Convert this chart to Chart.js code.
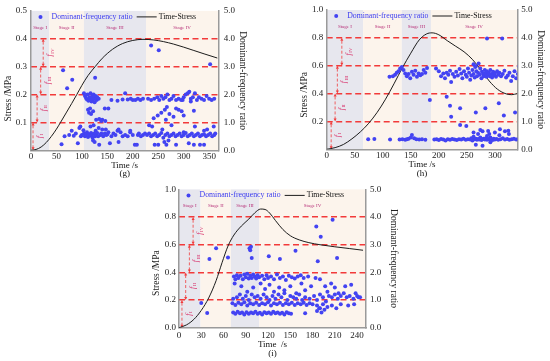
<!DOCTYPE html>
<html>
<head>
<meta charset="utf-8">
<script src="https://cdn.jsdelivr.net/npm/chart.js@4.4.1/dist/chart.umd.min.js"></script>
<style>
  body { margin: 0; background: #fff; }
  #wrap { position: relative; width: 550px; height: 361px; }
  .box { position: absolute; }
</style>
</head>
<body>
<div id="wrap">
  <div class="box" style="left:0;top:0;width:275px;height:180px"><canvas id="g"></canvas></div>
  <div class="box" style="left:275px;top:0;width:275px;height:180px"><canvas id="h"></canvas></div>
  <div class="box" style="left:130px;top:180px;width:280px;height:181px"><canvas id="i"></canvas></div>
</div>
<script>
const stageNames = ['Stage I', 'Stage II', 'Stage III', 'Stage IV'];
const stepNames = ['I', 'II', 'III', 'IV'];

// (g)
const gXTicks = [0, 50, 100, 150, 200, 250, 300, 350];
const gStages = [0, 36, 104, 226, 368];
const gSteps = [4, 12, 19, 24];
const gStressT = [0, 10, 20, 30, 40, 50, 58, 70, 80, 90, 100, 112, 126, 140, 160, 180, 200, 220, 240, 260, 280, 300, 320, 340, 366];
const gStressV = [0, 0.003, 0.012, 0.028, 0.05, 0.076, 0.1, 0.137, 0.168, 0.2, 0.233, 0.268, 0.3, 0.33, 0.362, 0.383, 0.394, 0.398, 0.396, 0.39, 0.381, 0.37, 0.358, 0.346, 0.331];
const gRatio = [
  [63,2.87],[71,2.23],[81,2.53],[60,0.22],[66,0.5],[75,0.55],[80,0.7],[84,0.52],[88,0.6],[92,0.25],[95,0.8],[97,0.85],[100,0.55],[103,0.72],[98,0.5],
  [104,2.05],[106,1.95],[108,1.88],[110,1.82],[111,2.0],[113,1.78],[115,1.9],[116,1.85],[117,2.05],[119,1.75],[120,1.92],[121,1.8],[123,2.0],[124,1.85],[125,1.72],[127,1.95],[129,1.8],[130,1.9],[133,1.85],[126,2.6],
  [112,1.45],[114,1.35],[118,1.3],[116,1.5],[122,1.4],[128,1.1],[134,1.12],[140,1.1],[145,1.5],[152,1.5],[138,1.05],[146,1.05],[158,1.8],[170,1.78],[185,2.05],[190,1.82],[196,1.85],[200,1.8],[205,1.8],[210,1.85],[215,1.8],[220,1.85],[180,1.82],
  [104,0.6],[106,0.5],[108,0.55],[110,0.65],[112,0.48],[114,0.58],[116,0.52],[118,0.62],[120,0.55],[121,0.45],[122,0.35],[124,0.6],[125,0.3],[126,0.5],[127,0.7],[128,0.55],[130,0.62],[132,0.5],[134,0.2],[136,0.55],[138,0.6],[140,0.75],[142,0.5],[145,0.6],[148,0.55],[150,0.58],[152,0.65],[155,0.25],[158,0.5],[162,0.6],[166,0.55],[170,0.7],[172,0.3],[176,0.65],[180,0.5],[185,0.55],[190,0.5],[195,0.65],[200,0.55],[204,0.2],[208,0.2],[210,0.55],[212,0.6],[216,0.5],[220,0.55],[224,0.6],
  [117,0.85],[123,0.9],[133,0.8],[147,0.75],[172,0.75],[195,0.7],
  [236,3.76],[251,3.59],[352,3.09],
  [230,1.85],[236,1.8],[242,1.85],[248,1.9],[252,1.8],[256,1.95],[260,1.85],[264,1.9],[268,2.0],[272,1.8],[276,1.85],[280,1.95],[285,1.8],[290,1.85],[295,1.8],[300,1.9],[304,2.0],[308,2.05],[311,2.1],[314,1.85],[318,1.9],[322,2.05],[326,1.8],[330,1.9],[335,1.85],[340,1.8],[345,1.95],[350,1.85],[355,1.8],[360,1.85],[314,1.75],[298,1.8],
  [241,1.15],[249,1.25],[256,1.35],[263,1.45],[267,1.55],[272,1.3],[280,1.2],[285,1.5],[290,1.45],[296,1.4],[300,1.25],[320,1.42],[265,1.1],[232,0.9],[238,0.85],[258,0.75],[276,0.9],[300,0.65],[322,0.85],[346,0.75],[340,0.7],[359,0.85],
  [228,0.55],[232,0.6],[236,0.5],[240,0.55],[244,0.6],[248,0.5],[252,0.55],[256,0.62],[260,0.45],[264,0.55],[268,0.6],[272,0.5],[276,0.55],[280,0.6],[284,0.5],[288,0.55],[292,0.6],[296,0.5],[300,0.55],[304,0.62],[308,0.5],[312,0.55],[316,0.6],[320,0.5],[324,0.55],[328,0.6],[332,0.5],[336,0.55],[340,0.58],[344,0.5],[348,0.55],[352,0.6],[356,0.5],[360,0.55],[362,0.6],
  [243,0.2],[250,0.2],[262,0.3],[266,0.2],[270,0.35],[285,0.2],[310,0.25],[320,0.2],[332,0.2],[340,0.2]
];

// (h)
const hXTicks = [0, 50, 100, 150, 200, 250, 300];
const hStages = [0, 65, 134, 186, 340];
const hSteps = [8, 15, 19, 27];
const hStressT = [0, 15, 30, 45, 60, 75, 90, 105, 120, 135, 150, 165, 178, 188, 200, 215, 230, 245, 260, 275, 290, 305, 320, 330, 340];
const hStressV = [0, 0.012, 0.035, 0.075, 0.125, 0.187, 0.265, 0.36, 0.47, 0.585, 0.69, 0.785, 0.828, 0.836, 0.822, 0.78, 0.74, 0.70, 0.645, 0.57, 0.49, 0.43, 0.398, 0.392, 0.40];
const hRatio = [
  [74,0.36],[85,0.37],[113,0.35],[130,0.35],[135,0.36],[140,0.34],[143,0.36],[146,0.38],[150,0.42],[152,0.51],[156,0.4],[160,0.36],[165,0.35],[170,0.36],[176,0.34],
  [192,0.35],[196,0.36],[200,0.33],[204,0.37],[208,0.35],[212,0.32],[216,0.36],[220,0.34],[224,0.37],[228,0.35],[232,0.33],[236,0.36],[240,0.35],[244,0.38],[248,0.34],[252,0.36],[256,0.35],[258,0.4],[260,0.32],[262,0.45],[264,0.36],[266,0.38],[268,0.34],[270,0.37],[272,0.35],[274,0.42],[276,0.33],[278,0.36],[280,0.38],[282,0.35],[284,0.4],[286,0.34],[288,0.37],[290,0.35],[292,0.42],[294,0.36],[296,0.33],[298,0.38],[300,0.35],[303,0.37],[306,0.34],[310,0.36],[314,0.4],[318,0.35],[322,0.37],[326,0.34],[330,0.36],[334,0.38],[338,0.35],[342,0.36],
  [262,0.6],[270,0.55],[278,0.65],[290,0.55],[300,0.6],[308,0.5],[318,0.65],[325,0.55],[286,0.48],[266,0.16],[278,0.13],[292,0.25],
  [112,2.6],[118,2.62],[122,2.68],[125,2.75],[128,2.8],[131,2.9],[134,2.95],[137,2.85],[140,2.72],[143,2.62],[146,2.7],[149,2.55],[152,2.78],[155,2.68],[158,2.82],[161,2.6],[164,2.72],[167,2.66],[170,2.7],[173,2.85],[176,2.75],[179,2.92],
  [195,2.9],[200,2.8],[204,2.62],[208,2.72],[211,2.55],[214,2.75],[217,2.68],[220,2.82],[222,2.42],[225,2.7],[228,2.6],[231,2.78],[234,2.65],[237,2.88],[240,2.72],[242,2.55],[245,2.8],[248,2.68],[250,2.6],[252,2.9],[254,2.75],[256,2.5],[258,2.65],[260,2.85],[262,2.7],[264,2.58],[265,2.95],[267,2.8],[268,2.62],[270,2.75],[271,3.08],[273,2.68],[274,2.9],[276,2.55],[277,2.78],[279,2.7],[280,2.62],[282,2.85],[283,2.72],[285,2.6],[286,2.8],[288,2.68],[289,2.75],[291,2.62],[292,2.85],[294,2.7],[295,2.58],[297,2.78],[298,2.66],[300,2.72],[302,2.6],[304,2.8],[306,2.68],[308,2.75],[311,2.62],[314,2.7],[317,2.82],[320,2.58],[323,2.65],[326,2.75],[329,2.45],[332,2.62],[335,2.8],[338,2.55],[341,2.7],[343,2.98],[262,3.05],[266,2.98],
  [184,1.77],[214,1.89],[220,1.56],[238,1.47],[238,0.87],[249,0.84],[222,1.17],[266,1.32],[283,1.47],[307,1.65],[316,1.21],[336,1.32],[274,0.69],[288,0.66],[309,0.72],[324,0.67],[286,3.98],[313,3.98]
];

// (i)
const iXTicks = [0, 30, 60, 90, 120, 150, 180, 210, 240];
const iStages = [0, 29, 70, 108, 252];
const iSteps = [4, 9, 14, 19];
const iStressT = [0, 10, 20, 30, 40, 50, 58, 66, 74, 84, 94, 102, 110, 116, 122, 130, 140, 150, 162, 175, 190, 210, 230, 248];
const iStressV = [0, 0.02, 0.06, 0.125, 0.215, 0.34, 0.47, 0.59, 0.67, 0.735, 0.785, 0.83, 0.858, 0.855, 0.83, 0.775, 0.71, 0.665, 0.635, 0.615, 0.6, 0.585, 0.572, 0.56];
const iRatio = [
  [74,1.85],[76,1.75],[78,1.9],[80,1.8],[83,1.88],[86,1.75],[88,1.92],[90,1.82],[92,1.95],[94,1.78],[96,1.88],[98,1.8],[100,1.92],[102,1.85],[104,1.78],[106,1.9],[108,1.82],[112,1.88],[115,1.75],[118,1.9],[120,1.8],[124,1.85],[128,1.75],[132,1.92],[136,1.8],[140,1.85],[144,1.72],[148,1.88],[152,1.82],[156,1.78],[160,1.85],[164,1.9],[168,1.8],[174,1.85],
  [75,1.6],[84,1.5],[92,1.3],[100,1.45],[110,1.6],[116,1.4],[122,1.55],[128,1.3],[135,1.45],[142,1.35],[150,1.5],[158,1.25],[165,1.6],[170,1.35],[178,1.5],[184,1.8],[190,1.75],[197,1.5],[200,1.3],[205,1.6],[210,1.45],[215,1.25],[224,1.5],[232,1.55],[238,1.25],[242,1.1],
  [73,1.05],[78,1.1],[82,1.2],[86,1.05],[90,1.15],[94,1.0],[98,1.2],[102,1.1],[106,1.15],[110,1.05],[114,1.2],[118,1.1],[122,1.0],[126,1.15],[130,1.05],[134,1.2],[138,1.1],[142,1.25],[146,1.0],[150,1.15],[154,1.1],[158,1.05],[162,1.2],[166,1.0],[170,1.1],[176,1.05],[182,1.15],[186,1.0],[190,1.2],[194,1.1],[198,0.95],[202,1.15],[206,1.1],[210,1.2],[214,1.05],[218,1.15],[222,1.25],[226,1.1],[230,1.15],[235,1.05],[240,1.15],[244,1.1],
  [72,0.88],[76,0.82],[80,0.9],[84,0.85],[88,0.92],[92,0.8],[96,0.88],[100,0.85],[104,0.9],[108,0.82],[112,0.88],[116,0.85],[120,0.92],[124,0.8],[128,0.88],[132,0.85],[136,0.9],[140,0.82],[144,0.88],[148,0.85],[152,0.9],[156,0.82],[160,0.88],[164,0.85],[168,0.9],[172,0.82],[176,0.88],[180,0.85],[186,0.8],[190,0.7],[194,0.85],[200,0.75],[206,0.8],[212,0.7],[218,0.85],[228,0.8],[236,0.85],
  [73,0.55],[76,0.5],[79,0.58],[82,0.52],[85,0.55],[88,0.48],[91,0.56],[94,0.5],[97,0.55],[100,0.52],[103,0.58],[106,0.5],[109,0.54],[112,0.48],[115,0.56],[118,0.52],[121,0.55],[124,0.5],[127,0.58],[130,0.52],[133,0.55],[136,0.5],[139,0.54],[142,0.48],[145,0.56],[148,0.52],[151,0.5],[170,0.52],[186,0.6],[189,0.7],[192,0.55],[196,0.65],
  [30,0.89],[38,0.53],[41,2.48],[50,2.87],[66,2.54],[95,2.87],[97,2.93],[96,2.8],[98,2.52],[121,2.58],[136,2.48],[157,2.78],[187,2.4],[185,3.66],[191,3.29],[207,3.9],[213,2.52]
];

const serif = 'Liberation Serif';

// stage bands + stage names, under everything
const stagePlugin = {
  id: 'stages',
  beforeDraw(chart, args, opts) {
    const { ctx, chartArea: a, scales: { x } } = chart;
    ctx.save();
    for (let k = 0; k < 4; k++) {
      const x0 = x.getPixelForValue(opts.bounds[k]);
      const x1 = x.getPixelForValue(opts.bounds[k + 1]);
      ctx.fillStyle = k % 2 ? '#fcf4ec' : '#e7e7ee';
      ctx.fillRect(x0, a.top, x1 - x0, a.bottom - a.top);
      ctx.fillStyle = '#b8337a';
      ctx.font = '5px ' + serif;
      ctx.textAlign = 'center';
      ctx.textBaseline = 'middle';
      ctx.fillText(stageNames[k], (x0 + x1) / 2, a.top + 16.5);
    }
    ctx.restore();
  }
};

// the f_I .. f_IV step arrows
const stepPlugin = {
  id: 'steps',
  beforeDatasetsDraw(chart, args, opts) {
    const { ctx, scales: { x, y1 } } = chart;
    ctx.save();
    opts.at.forEach((t, k) => {
      const px = x.getPixelForValue(t);
      const ya = y1.getPixelForValue(k), yb = y1.getPixelForValue(k + 1);
      ctx.strokeStyle = '#f03c3c';
      ctx.lineWidth = 0.8;
      ctx.setLineDash([3, 2]);
      ctx.beginPath(); ctx.moveTo(px, ya - 2); ctx.lineTo(px, yb + 2); ctx.stroke();
      ctx.setLineDash([]);
      ctx.fillStyle = '#f03c3c';
      [[yb, 1], [ya, -1]].forEach(([yy, dir]) => {
        ctx.beginPath();
        ctx.moveTo(px, yy);
        ctx.lineTo(px - 1.5, yy + dir * 3);
        ctx.lineTo(px + 1.5, yy + dir * 3);
        ctx.closePath();
        ctx.fill();
      });
      ctx.save();
      ctx.translate(px + 7, (ya + yb) / 2);
      ctx.rotate(-Math.PI / 2);
      ctx.fillStyle = '#d8306a';
      ctx.textBaseline = 'middle';
      ctx.textAlign = 'left';
      ctx.font = 'italic 8px ' + serif;
      const w = ctx.measureText('f').width;
      ctx.font = '5px ' + serif;
      const ws = ctx.measureText(stepNames[k]).width;
      const start = -(w + ws) / 2;
      ctx.font = 'italic 8px ' + serif;
      ctx.fillText('f', start, 0);
      ctx.font = '5px ' + serif;
      ctx.fillText(stepNames[k], start + w + 0.5, 2);
      ctx.restore();
    });
    ctx.restore();
  }
};

// legend inside the plot + left axis title
const keyPlugin = {
  id: 'key',
  afterDatasetsDraw(chart, args, opts) {
    const { ctx, chartArea: a } = chart;
    const ds = chart.data.datasets;
    const y = a.top + 6;
    let x = a.left + 9.5;
    ctx.save();
    ctx.font = '7.8px ' + serif;
    ctx.textBaseline = 'middle';
    ctx.textAlign = 'left';
    ctx.fillStyle = ds[0].backgroundColor;
    ctx.beginPath(); ctx.arc(x, y, 2, 0, Math.PI * 2); ctx.fill();
    x += 11;
    ctx.fillStyle = '#3c3cf0';
    ctx.fillText(ds[0].label, x, y);
    x += ctx.measureText(ds[0].label).width + 4;
    ctx.strokeStyle = ds[1].borderColor;
    ctx.lineWidth = 1;
    ctx.beginPath(); ctx.moveTo(x, y); ctx.lineTo(x + 20, y); ctx.stroke();
    x += 22;
    ctx.fillStyle = '#111';
    ctx.fillText(ds[1].label, x, y);

    ctx.translate(opts.titleX, (a.top + a.bottom) / 2 + opts.titleDy);
    ctx.rotate(-Math.PI / 2);
    ctx.font = '9.5px ' + serif;
    ctx.textAlign = 'center';
    ctx.fillStyle = '#222';
    ctx.fillText('Stress /MPa', 0, 0);
    ctx.restore();
  }
};

function makeChart(id, d, lay) {
  const redLines = c => (c.tick.value > 0.01 && c.tick.value < 4.99) ? '#f23a3a' : 'rgba(0,0,0,0)';
  const tickFont = { family: serif, size: 9 };
  new Chart(document.getElementById(id), {
    type: 'scatter',
    data: {
      datasets: [
        {
          label: 'Dominant-frequency ratio',
          data: d.ratio.map(p => ({ x: p[0], y: p[1] })),
          yAxisID: 'y1',
          backgroundColor: '#4343f2',
          borderWidth: 0,
          pointRadius: 2
        },
        {
          type: 'line',
          label: 'Time-Stress',
          data: d.time.map((t, k) => ({ x: t, y: d.stress[k] })),
          yAxisID: 'y',
          borderColor: '#1c1c1c',
          borderWidth: 1,
          pointRadius: 0,
          cubicInterpolationMode: 'monotone',
          fill: false
        }
      ]
    },
    options: {
      responsive: true,
      maintainAspectRatio: false,
      animation: false,
      layout: { padding: lay.pad },
      plugins: {
        legend: { display: false },
        tooltip: { enabled: false },
        stages: { bounds: d.stages },
        steps: { at: d.steps },
        key: { titleX: lay.titleX, titleDy: lay.titleDy }
      },
      scales: {
        x: {
          type: 'linear', min: 0, max: d.xMax,
          ticks: { padding: lay.xTickPad, font: tickFont, color: '#222', maxRotation: 0, autoSkip: false },
          grid: { display: false, drawTicks: false },
          border: { color: '#9a9a9a', width: 1.5 },
          title: { display: true, text: [d.xTitle, d.tag], color: '#111',
                   font: { family: serif, size: 9, lineHeight: lay.xLh }, padding: { top: 0, bottom: lay.xTitlePad } },
          afterBuildTicks: s => { s.ticks = d.xTicks.map(v => ({ value: v })); },
          afterFit: s => { s.height = lay.xH; }
        },
        y: {
          type: 'linear', position: 'left', min: 0, max: d.yMax,
          ticks: { stepSize: d.yStep, padding: lay.yTickPad, font: tickFont, color: '#222',
                   callback: v => (v < 1e-6 && !d.zeroLabel) ? '' : v.toFixed(1) },
          grid: { display: false, drawTicks: false },
          border: { color: '#9a9a9a', width: 1.5 },
          afterFit: s => { s.width = lay.yW; }
        },
        y1: {
          type: 'linear', position: 'right', min: 0, max: 5,
          ticks: { stepSize: 1, padding: lay.y1TickPad, font: tickFont, color: '#222', callback: v => v.toFixed(1) },
          grid: { color: redLines, lineWidth: 1.4, drawTicks: false },
          border: { color: '#9a9a9a', width: 1.5, dash: [6, 3.5] },
          title: { display: true, text: 'Dominant-frequency ratio', color: '#222',
                   font: { family: serif, size: 9.5 }, padding: { top: 0, bottom: 0 } },
          afterFit: s => { s.width = lay.y1W; }
        }
      }
    },
    plugins: [stagePlugin, stepPlugin, keyPlugin]
  });
}

makeChart('g',
  { time: gStressT, stress: gStressV, ratio: gRatio, stages: gStages, steps: gSteps, xTicks: gXTicks,
    xMax: 368, yMax: 0.5, yStep: 0.1, zeroLabel: false, xTitle: 'Time /s', tag: '(g)' },
  { pad: { top: 9.3, right: 27, left: 0, bottom: 0 }, yW: 31, y1W: 29.7, xH: 29.7,
    xTickPad: 1.3, xTitlePad: 1.9, xLh: 0.92, yTickPad: 4, y1TickPad: 5.5, titleX: 8, titleDy: 18 });

makeChart('h',
  { time: hStressT, stress: hStressV, ratio: hRatio, stages: hStages, steps: hSteps, xTicks: hXTicks,
    xMax: 340, yMax: 1.0, yStep: 0.2, zeroLabel: false, xTitle: 'Time /s', tag: '(h)' },
  { pad: { top: 10, right: 4.3, left: 0, bottom: 0 }, yW: 51.7, y1W: 28.4, xH: 30.7,
    xTickPad: 1.3, xTitlePad: 2.2, xLh: 1.0, yTickPad: 3.5, y1TickPad: 4, titleX: 29, titleDy: 15.3 });

makeChart('i',
  { time: iStressT, stress: iStressV, ratio: iRatio, stages: iStages, steps: iSteps, xTicks: iXTicks,
    xMax: 252, yMax: 1.0, yStep: 0.2, zeroLabel: true, xTitle: 'Time  /s', tag: '(i)' },
  { pad: { top: 6.7, right: 11.3, left: 0, bottom: 0 }, yW: 49, y1W: 32.7, xH: 33.3,
    xTickPad: 3, xTitlePad: 3.6, xLh: 0.92, yTickPad: 3, y1TickPad: 4, titleX: 26.7, titleDy: 14.5 });
</script>
</body>
</html>
